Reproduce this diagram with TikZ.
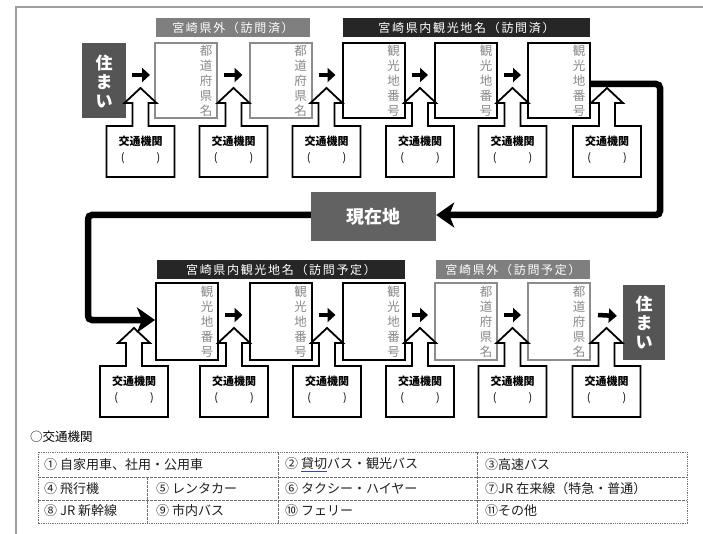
\documentclass[tikz,border=0pt]{standalone}
\usepackage{fontspec}
\setmainfont{Noto Sans CJK JP}
\newfontfamily\hdrfont[LetterSpace=14]{Noto Sans CJK JP}
\usetikzlibrary{arrows.meta}
\definecolor{homegray}{HTML}{555555}
\definecolor{nowgray}{HTML}{626262}
\definecolor{hdrgray}{HTML}{7F7F7F}
\definecolor{hdrblack}{HTML}{262626}
\definecolor{boxgray}{HTML}{8C8C8C}
\definecolor{txtgray}{HTML}{8A8A8A}
\definecolor{framegray}{HTML}{A0A0A0}
\definecolor{tblline}{HTML}{707070}
\definecolor{uline}{HTML}{3A4A8A}
\begin{document}
\begin{tikzpicture}[x=1pt,y=-1pt,
  home/.style={fill=homegray, text=white, font=\bfseries\fontsize{17}{19}\selectfont, align=center, minimum height=75pt, inner sep=0pt},
  nowbox/.style={fill=nowgray, text=white, font=\bfseries\fontsize{18}{20}\selectfont, minimum width=125pt, minimum height=49pt, inner sep=0pt},
  hdrg/.style={fill=hdrgray, text=white, minimum height=19pt, inner sep=0pt, font=\hdrfont\fontsize{12}{14}\selectfont},
  hdrk/.style={fill=hdrblack, text=white, minimum height=19pt, inner sep=0pt, font=\hdrfont\fontsize{12}{14}\selectfont},
  gbox/.style={draw=boxgray, line width=2pt, fill=white, minimum width=62pt, minimum height=75pt, inner sep=0pt},
  kbox/.style={draw=black, line width=2pt, fill=white, minimum width=62pt, minimum height=75pt, inner sep=0pt},
  vtext/.style={text=txtgray, align=center, inner sep=0pt, font=\fontsize{12.5}{15}\selectfont},
  ktext/.style={inner sep=0pt, font=\bfseries\fontsize{11}{13}\selectfont},
  ptext/.style={inner sep=0pt, font=\fontsize{11}{13}\selectfont},
  sarrow/.style={line width=4.5pt, -{Triangle[length=8pt,width=14pt]}},
  bigline/.style={line width=6.5pt, rounded corners=4pt, -{Stealth[length=18pt,width=25pt,inset=5pt]}},
  tbltext/.style={anchor=west, inner sep=0pt, text=black!88, font=\fontsize{13}{15}\selectfont},
  callout/.pic={
    \draw[line width=1.8pt, fill=white, miter limit=10] (0,0) -- (16,15) -- (8,15) -- (8,38) -- (34,38) -- (34,89) -- (-34,89) -- (-34,38) -- (-8,38) -- (-8,15) -- (-16,15) -- cycle;
    \node[ktext] (-t) at (0,53) {交通機関};
    \node[ptext] (-p) at (0,70) {(\hspace{32pt})};
  }
]
\useasboundingbox (0,0) rectangle (703,534);
% frame
\draw[framegray, line width=1.5pt] (16,534) -- (16,7) -- (703,7);

% ---------------- row 1 ----------------
\node[hdrg] (hg1) at (233,27.5) [minimum width=154pt] {宮崎県外（訪問済）};
\node[hdrk] (hk1) at (466.5,27.5) [minimum width=247pt] {宮崎県内観光地名（訪問済）};

\node[home, minimum width=44pt] (h1) at (104,81) {住\\ま\\い};
\node[gbox] (b11) at (186,81) {};
\node[gbox] (b12) at (280.5,81) {};
\node[kbox] (b13) at (373.5,81) {};
\node[kbox] (b14) at (466,81) {};
\node[kbox] (b15) at (559,81) {};
\node[vtext] (t11) at ([xshift=-12pt]b11.east) {都\\道\\府\\県\\名};
\node[vtext] (t12) at ([xshift=-12pt]b12.east) {都\\道\\府\\県\\名};
\node[vtext] (t13) at ([xshift=-12pt]b13.east) {観\\光\\地\\番\\号};
\node[vtext] (t14) at ([xshift=-12pt]b14.east) {観\\光\\地\\番\\号};
\node[vtext] (t15) at ([xshift=-12pt]b15.east) {観\\光\\地\\番\\号};

\pic (k11) at (140.5,88) {callout};
\pic (k12) at (233.5,88) {callout};
\pic (k13) at (326.5,88) {callout};
\pic (k14) at (420,88) {callout};
\pic (k15) at (512.5,88) {callout};
\pic (k16) at (607,88) {callout};

\draw[sarrow] ([shift={(6pt,6pt)}]h1.east) -- ([shift={(-4pt,6pt)}]b11.west);
\draw[sarrow] ([shift={(6pt,6pt)}]b11.east) -- ([shift={(-6pt,6pt)}]b12.west);
\draw[sarrow] ([shift={(6pt,6pt)}]b12.east) -- ([shift={(-6pt,6pt)}]b13.west);
\draw[sarrow] ([shift={(6pt,6pt)}]b13.east) -- ([shift={(-6pt,6pt)}]b14.west);
\draw[sarrow] ([shift={(6pt,6pt)}]b14.east) -- ([shift={(-6pt,6pt)}]b15.west);

% ---------------- current position ----------------
\node[nowbox] (now) at (373.5,216.5) {現在地};

% ---------------- row 2 ----------------
\node[hdrk] (hk2) at (281,269.5) [minimum width=248pt] {宮崎県内観光地名（訪問予定）};
\node[hdrg] (hg2) at (513,269.5) [minimum width=154pt] {宮崎県外（訪問予定）};

\node[kbox, minimum height=77pt] (b21) at (187,321.5) {};
\node[kbox, minimum height=77pt] (b22) at (280.5,321.5) {};
\node[kbox, minimum height=77pt] (b23) at (373.5,321.5) {};
\node[gbox, minimum height=77pt] (b24) at (466,321.5) {};
\node[gbox, minimum height=77pt] (b25) at (559,321.5) {};
\node[home, minimum width=42pt] (h2) at (644,322.5) {住\\ま\\い};
\node[vtext] (t21) at ([xshift=-12pt]b21.east) {観\\光\\地\\番\\号};
\node[vtext] (t22) at ([xshift=-12pt]b22.east) {観\\光\\地\\番\\号};
\node[vtext] (t23) at ([xshift=-12pt]b23.east) {観\\光\\地\\番\\号};
\node[vtext] (t24) at ([xshift=-12pt]b24.east) {都\\道\\府\\県\\名};
\node[vtext] (t25) at ([xshift=-12pt]b25.east) {都\\道\\府\\県\\名};

\pic (k21) at (134,328) {callout};
\pic (k22) at (234,328) {callout};
\pic (k23) at (327,328) {callout};
\pic (k24) at (420,328) {callout};
\pic (k25) at (512.5,328) {callout};
\pic (k26) at (606.5,328) {callout};

\draw[sarrow] ([shift={(6pt,6.5pt)}]b21.east) -- ([shift={(-6pt,6.5pt)}]b22.west);
\draw[sarrow] ([shift={(6pt,6.5pt)}]b22.east) -- ([shift={(-6pt,6.5pt)}]b23.west);
\draw[sarrow] ([shift={(6pt,6.5pt)}]b23.east) -- ([shift={(-6pt,6.5pt)}]b24.west);
\draw[sarrow] ([shift={(6pt,6.5pt)}]b24.east) -- ([shift={(-6pt,6.5pt)}]b25.west);
\draw[sarrow] ([shift={(7pt,6.5pt)}]b25.east) -- ([shift={(-6pt,6.5pt)}]h2.west);

% ---------------- big connectors ----------------
\coordinate (p1) at (660,84);
\coordinate (p2) at (660,215);
\coordinate (p3) at (88,215);
\coordinate (p4) at (88,320);
\draw[bigline] (b15.east |- p1) -- (p1) -- (p2) -- (now.east |- p2);
\draw[bigline] (now.west |- p3) -- (p3) -- (p4) -- (b21.west |- p4);

% ---------------- legend ----------------
\node[anchor=west, inner sep=0pt, font=\fontsize{12.5}{14}\selectfont] (lg) at (30,437) {○交通機関};
\draw[tblline, line width=0.9pt, dash pattern=on 0.9pt off 0.9pt] (38,452) rectangle (687,523);
\draw[tblline, line width=0.7pt, dash pattern=on 2.5pt off 1.5pt]
  (38,477) -- (687,477)
  (38,500) -- (687,500)
  (278,452) -- (278,523)
  (477,452) -- (477,523)
  (147,477) -- (147,523);
\node[tbltext] (c1) at (44,465) {① 自家用車、社用・公用車};
\node[tbltext] (c2) at (285,465) {② {\color{uline}\underline{{\color{black!88}貸切}}}バス・観光バス};
\node[tbltext] (c3) at (485,465) {③高速バス};
\node[tbltext] (c4) at (44,488.5) {④ 飛行機};
\node[tbltext] (c5) at (156,488.5) {⑤ レンタカー};
\node[tbltext] (c6) at (285,488.5) {⑥ タクシー・ハイヤー};
\node[tbltext] (c7) at (485,488.5) {⑦JR 在来線（特急・普通）};
\node[tbltext] (c8) at (44,511) {⑧ JR 新幹線};
\node[tbltext] (c9) at (156,511) {⑨ 市内バス};
\node[tbltext] (c10) at (285,511) {⑩ フェリー};
\node[tbltext] (c11) at (485,511) {⑪その他};
\end{tikzpicture}
\end{document}
